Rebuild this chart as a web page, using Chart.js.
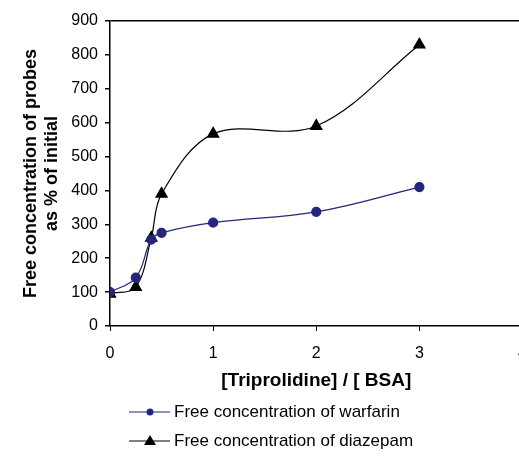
<!DOCTYPE html>
<html>
<head>
<meta charset="utf-8">
<script src="https://cdn.jsdelivr.net/npm/chart.js@4"></script>
<style>
    html, body { margin: 0; padding: 0; background: #fff; overflow: hidden; }
    #wrap { position: relative; width: 540px; height: 456px; }
</style>
</head>
<body>
<div id="wrap"><canvas id="chart"></canvas></div>
<script>
// Data
const ratioWarfarin = [0, 0.25, 0.4, 0.5, 1, 2, 3];
const freeWarfarin = [100, 143, 255, 275, 305, 337, 410];
const ratioDiazepam = [0, 0.25, 0.4, 0.5, 1, 2, 3];
const freeDiazepam = [95, 115, 260, 390, 567, 590, 830];
const seriesNames = ["Free concentration of warfarin", "Free concentration of diazepam"];
const yTitle = ["Free concentration of probes", "as % of initial"];
const xTitle = "[Triprolidine] / [ BSA]";

const navy = "#25257d";
const font = "'Liberation Sans', Arial, sans-serif";

function toPoints(xs, ys) {
    return xs.map((x, i) => ({ x, y: ys[i] }));
}

// Legend drawn below the x title, two stacked rows like the original
const stackedLegend = {
    id: "stackedLegend",
    afterDraw(chart) {
        const ctx = chart.ctx;
        const rows = [
            { y: 412, ds: chart.data.datasets[0] },
            { y: 441, ds: chart.data.datasets[1] }
        ];
        ctx.save();
        rows.forEach(r => {
            ctx.strokeStyle = r.ds.borderColor;
            ctx.lineWidth = 1;
            ctx.beginPath();
            ctx.moveTo(129, r.y);
            ctx.lineTo(170, r.y);
            ctx.stroke();
            ctx.fillStyle = r.ds.pointBackgroundColor;
            if (r.ds.pointStyle === "triangle") {
                ctx.beginPath();
                ctx.moveTo(150, r.y - 6);
                ctx.lineTo(156, r.y + 4);
                ctx.lineTo(144, r.y + 4);
                ctx.closePath();
                ctx.fill();
            } else {
                ctx.beginPath();
                ctx.arc(150, r.y, 3.5, 0, Math.PI * 2);
                ctx.fill();
            }
            ctx.fillStyle = "#000";
            ctx.font = "17px " + font;
            ctx.textBaseline = "middle";
            ctx.fillText(r.ds.label, 174, r.y);
        });
        ctx.restore();
    }
};

const ctx = document.getElementById("chart").getContext("2d");
new Chart(ctx, {
    type: "line",
    data: {
        datasets: [
            {
                label: seriesNames[0],
                data: toPoints(ratioWarfarin, freeWarfarin),
                borderColor: navy,
                backgroundColor: navy,
                pointBackgroundColor: navy,
                pointBorderColor: navy,
                pointStyle: "circle",
                pointRadius: 4.5,
                borderWidth: 1.2,
                tension: 0.4
            },
            {
                label: seriesNames[1],
                data: toPoints(ratioDiazepam, freeDiazepam),
                borderColor: "#000",
                backgroundColor: "#000",
                pointBackgroundColor: "#000",
                pointBorderColor: "#000",
                pointStyle: "triangle",
                pointRadius: 6.5,
                borderWidth: 1.2,
                tension: 0.35
            }
        ]
    },
    options: {
        responsive: true,
        maintainAspectRatio: false,
        animation: false,
        layout: { padding: { left: 16, top: 21, right: 17, bottom: 60 } },
        plugins: {
            legend: { display: false },
            tooltip: { enabled: false }
        },
        scales: {
            x: {
                type: "linear",
                min: 0,
                max: 4,
                afterFit(scale) { scale.height = 70; },
                ticks: {
                    stepSize: 1,
                    color: "#000",
                    font: { family: font, size: 16 },
                    padding: 13
                },
                grid: { color: "transparent", tickColor: "#000", tickLength: 5, drawOnChartArea: false },
                border: { color: "#000", width: 1.5 },
                title: {
                    display: true,
                    text: xTitle,
                    color: "#000",
                    font: { family: font, size: 19, weight: "bold" },
                    padding: { top: 6 }
                }
            },
            y: {
                min: 0,
                max: 900,
                afterFit(scale) { scale.width = 94; },
                ticks: {
                    stepSize: 100,
                    color: "#000",
                    font: { family: font, size: 16 },
                    padding: 7
                },
                grid: {
                    color: c => c.tick && c.tick.value === 900 ? "#000" : "transparent",
                    lineWidth: 1.5,
                    tickColor: "#000",
                    tickLength: 5
                },
                border: { color: "#000", width: 1.5 },
                title: {
                    display: true,
                    text: yTitle,
                    color: "#000",
                    font: { family: font, size: 18, weight: "bold", lineHeight: 1.2 },
                    padding: { bottom: 6 }
                }
            }
        }
    },
    plugins: [stackedLegend]
});
</script>
</body>
</html>
